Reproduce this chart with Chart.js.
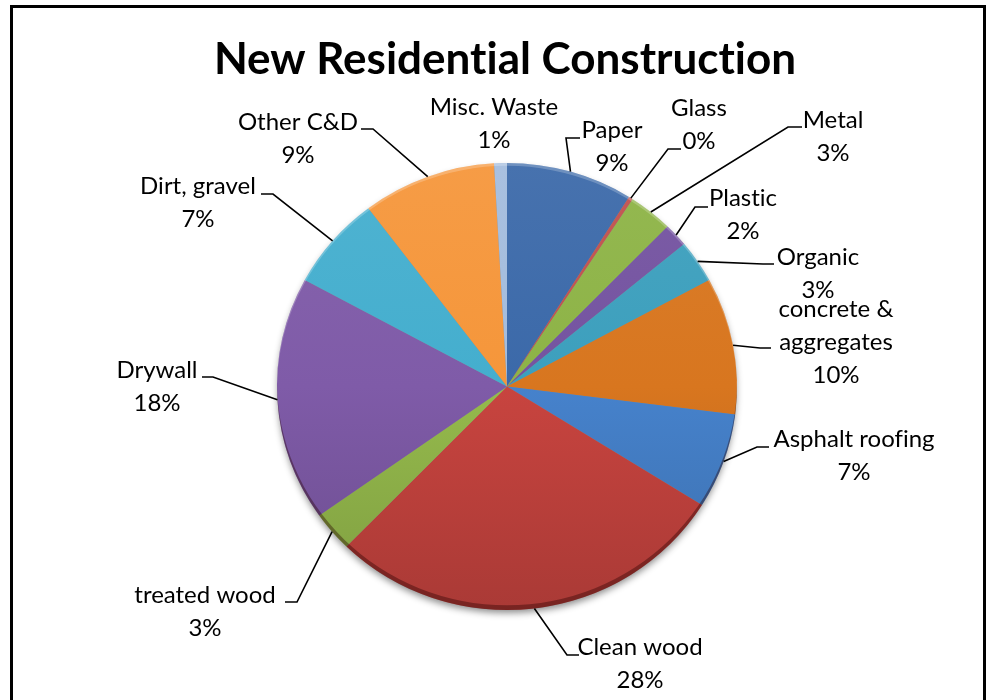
<!DOCTYPE html>
<html>
<head>
<meta charset="utf-8">
<script src="https://cdn.jsdelivr.net/npm/chart.js@4.4.1/dist/chart.umd.min.js"></script>
<style>
  html, body { margin: 0; padding: 0; background: #fff; overflow: hidden; }
  #wrap { position: relative; width: 990px; height: 700px; }
  #frame { position: absolute; left: 10px; top: 5px; width: 976px; height: 720px; border: 3px solid #000; box-sizing: border-box; }
  canvas { position: absolute; left: 0; top: 0; }
</style>
</head>
<body>
<div id="wrap">
  <div id="frame"></div>
  <canvas id="c" width="990" height="700"></canvas>
</div>
<script>
// Waste composition, share of total (%)
const categories = ['Paper', 'Glass', 'Metal', 'Plastic', 'Organic', 'concrete & aggregates',
  'Asphalt roofing', 'Clean wood', 'treated wood', 'Drywall', 'Dirt, gravel', 'Other C&D', 'Misc. Waste'];
const shares = [8.9, 0.3, 3.1, 1.7, 3.1, 9.9, 6.9, 28.4, 2.9, 17.7, 6.8, 9.4, 0.9];
// how each category name is broken into lines in its label
const labelLines = [['Paper'], ['Glass'], ['Metal'], ['Plastic'], ['Organic'], ['concrete &', 'aggregates'],
  ['Asphalt roofing'], ['Clean wood'], ['treated wood'], ['Drywall'], ['Dirt, gravel'], ['Other C&D'], ['Misc. Waste']];
const chartTitle = 'New Residential Construction';

const sliceColors = ['#3b69a9', '#c0504d', '#8db346', '#7453a0', '#3c9fbd', '#d8761f',
  '#4682cc', '#c8443f', '#95ba4c', '#7f5ba8', '#44aece', '#f5963a', '#a3bcdd'];

// label placement: text centre of the first line, leader elbow and leader end
const labelLayout = [
  { x: 612, y: 130, elbow: [566, 138], end: [580, 138] },
  { x: 699, y: 108, elbow: [668, 149], end: [681, 149] },
  { x: 833, y: 120, elbow: [788, 127], end: [802, 127] },
  { x: 743, y: 198, elbow: [695, 207], end: [708, 207] },
  { x: 818, y: 257, elbow: [763, 264], end: [774, 264] },
  { x: 836, y: 309, elbow: [760, 348], end: [771, 348] },
  { x: 854, y: 439, elbow: [757, 447], end: [769, 447] },
  { x: 640, y: 647, elbow: [567, 655], end: [579, 655] },
  { x: 205, y: 595, elbow: [297, 602], end: [285, 602] },
  { x: 157, y: 370, elbow: [213, 377], end: [202, 377] },
  { x: 198, y: 186, elbow: [273, 194], end: [261, 194] },
  { x: 298, y: 122, elbow: [373, 129], end: [361, 129] },
  { x: 494, y: 107, elbow: null, end: null }
];

const FONT = 'Lato, "Open Sans", sans-serif';
const PIE_SQUASH = 0.972; // slight vertical flattening of the pie

function mix(hex, target, t) {
  const n = parseInt(hex.slice(1), 16);
  const r = (n >> 16) & 255, g = (n >> 8) & 255, b = n & 255;
  const m = v => Math.round(v + (target - v) * t);
  return 'rgb(' + m(r) + ',' + m(g) + ',' + m(b) + ')';
}

const gradCache = {};
function sliceFill(ctx) {
  const chart = ctx.chart;
  const area = chart.chartArea;
  const base = sliceColors[ctx.dataIndex];
  if (!area) return base;
  const key = ctx.dataIndex + ':' + area.top + ':' + area.bottom;
  if (!gradCache[key]) {
    const g = chart.ctx.createLinearGradient(0, area.top, 0, area.bottom);
    g.addColorStop(0, mix(base, 255, 0.06));
    g.addColorStop(0.5, base);
    g.addColorStop(1, mix(base, 0, 0.15));
    gradCache[key] = g;
  }
  return gradCache[key];
}

// flattening, soft drop shadow under the pie and a bevel along its rim
const pieShading = {
  id: 'pieShading',
  beforeDatasetsDraw(chart) {
    const arc = chart.getDatasetMeta(0).data[0];
    if (!arc) return;
    const { x, y, outerRadius } = arc.getProps(['x', 'y', 'outerRadius'], true);
    const c = chart.ctx;
    c.save();
    c.translate(x, y);
    c.scale(1, PIE_SQUASH);
    c.translate(-x, -y);
    c.save();
    c.shadowColor = 'rgba(0,0,0,0.45)';
    c.shadowBlur = 7;
    c.shadowOffsetY = 4;
    c.fillStyle = '#888';
    c.beginPath();
    c.arc(x, y, outerRadius - 1, 0, Math.PI * 2);
    c.fill();
    c.restore();
  },
  afterDatasetsDraw(chart) {
    const arc = chart.getDatasetMeta(0).data[0];
    if (!arc) return;
    const { x, y, outerRadius } = arc.getProps(['x', 'y', 'outerRadius'], true);
    const c = chart.ctx;
    c.save();
    c.beginPath();
    c.arc(x, y, outerRadius, 0, Math.PI * 2);
    c.clip();
    c.beginPath();
    c.arc(x, y, outerRadius + 2, 0, Math.PI * 2);
    c.arc(x, y - 5, outerRadius, 0, Math.PI * 2, true);
    c.fillStyle = 'rgba(40,0,0,0.38)';
    c.fill();
    c.beginPath();
    c.arc(x, y, outerRadius + 2, 0, Math.PI * 2);
    c.arc(x, y + 3, outerRadius, 0, Math.PI * 2, true);
    c.fillStyle = 'rgba(255,255,255,0.22)';
    c.fill();
    c.restore();
    c.restore(); // undo the flattening transform
  }
};

// title, category labels with percentages and leader lines
const pieLabels = {
  id: 'pieLabels',
  afterDraw(chart) {
    const c = chart.ctx;
    const meta = chart.getDatasetMeta(0);
    const values = chart.data.datasets[0].data;
    const total = values.reduce((a, b) => a + b, 0);
    c.save();
    if ('textRendering' in c) c.textRendering = 'optimizeSpeed';
    c.fillStyle = '#000';
    c.textAlign = 'center';
    c.textBaseline = 'middle';
    c.font = 'bold 44px ' + FONT;
    c.fillText(chartTitle, 505, 60);

    c.font = '24px ' + FONT;
    c.strokeStyle = '#000';
    c.lineWidth = 1.6;
    meta.data.forEach((arc, i) => {
      const lay = labelLayout[i];
      const p = arc.getProps(['x', 'y', 'startAngle', 'endAngle', 'outerRadius'], true);
      if (lay.elbow) {
        const mid = (p.startAngle + p.endAngle) / 2;
        const sx = p.x + Math.cos(mid) * p.outerRadius;
        const sy = p.y + Math.sin(mid) * p.outerRadius * PIE_SQUASH;
        c.beginPath();
        c.moveTo(sx, sy);
        c.lineTo(lay.elbow[0], lay.elbow[1]);
        c.lineTo(lay.end[0], lay.end[1]);
        c.stroke();
      }
      const lines = labelLines[i].concat([Math.round(values[i] / total * 100) + '%']);
      lines.forEach((t, k) => c.fillText(t, lay.x, lay.y + k * 33));
    });
    c.restore();
  }
};

new Chart(document.getElementById('c'), {
  type: 'pie',
  data: {
    labels: categories,
    datasets: [{
      data: shares,
      backgroundColor: sliceFill,
      borderWidth: 0
    }]
  },
  options: {
    responsive: false,
    animation: false,
    layout: { padding: { left: 277, right: 253, top: 156, bottom: 83 } },
    plugins: {
      legend: { display: false },
      tooltip: { enabled: false },
      title: { display: false }
    }
  },
  plugins: [pieShading, pieLabels]
});
</script>
</body>
</html>
